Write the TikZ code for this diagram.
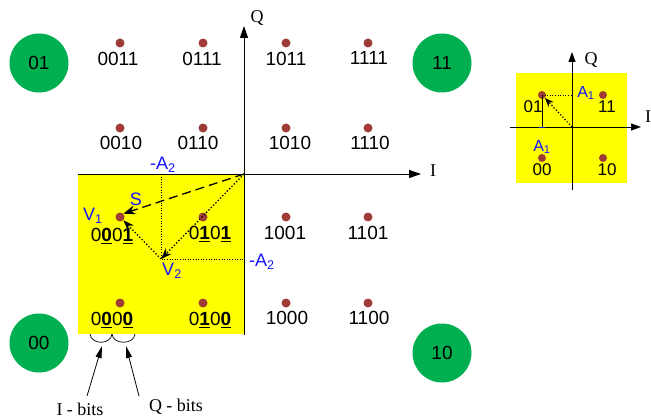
\documentclass[tikz,border=0pt]{standalone}
\usepackage{fontspec}
\setmainfont{Liberation Sans}
\newfontfamily\serifont{Liberation Serif}
\usetikzlibrary{arrows.meta}
\definecolor{qgreen}{RGB}{0,176,80}
\definecolor{qdot}{RGB}{160,60,55}
\definecolor{qyellow}{RGB}{255,255,0}
\definecolor{qblue}{RGB}{20,20,255}
\newcommand{\ub}[1]{\underline{\textbf{#1}}}
\newcommand{\sbs}[1]{\textsubscript{#1}}
\tikzset{
  every node/.style={inner sep=0pt},
  quad/.style={circle,fill=qgreen,minimum size=59pt,font=\fontsize{19}{21}\selectfont},
  pt/.style={circle,fill=qdot,minimum size=9pt},
  ipt/.style={circle,fill=qdot,minimum size=8pt},
  lbl/.style={font=\fontsize{19}{21}\selectfont},
  ilbl/.style={font=\fontsize{17}{19}\selectfont},
  blbl/.style={text=qblue,font=\fontsize{18}{20}\selectfont},
  axis/.style={line width=1pt,-{Triangle[length=12pt,width=8pt]}},
  iaxis/.style={line width=1pt,-{Triangle[length=10pt,width=7pt]}},
  serlbl/.style={font=\serifont\fontsize{18}{20}\selectfont},
  dotl/.style={line width=0.6pt,dotted},
  darr/.style={line width=1.3pt,dotted,-{Stealth[length=11pt,width=8pt]}},
  dasharr/.style={line width=1.3pt,dash pattern=on 9pt off 5pt,-{Stealth[length=12pt,width=9pt]}},
  barr/.style={line width=0.8pt,-{Triangle[length=12pt,width=6pt]}},
}
\begin{document}
\begin{tikzpicture}[x=1pt,y=-1pt]
\useasboundingbox (0,0) rectangle (651,420);
% yellow area
\fill[qyellow] (78,174) rectangle (244,334);
% axes
\coordinate (O) at (244,174);
\coordinate (Ileft) at (78,174);
\coordinate (Iright) at (421,174);
\coordinate (Qbot) at (244,335);
\coordinate (Qtop) at (244,26);
\draw[axis] (Ileft) -- (Iright);
\draw[axis] (Qbot) -- (Qtop);
\node[serlbl] (Ilab) at (433,171) {I};
\node[serlbl] (Qlab) at (257,18) {Q};
% quadrant circles
\node[quad] (c01) at (39,63) {01};
\node[quad] (c11) at (442,63) {11};
\node[quad] (c00) at (39,343) {00};
\node[quad] (c10) at (442,353) {10};
% constellation points
\foreach \n/\x/\y in {a/120/43,b/203/43,c/286/43,d/368/43,
                      e/120/128,f/203/128,g/286/128,h/368/128,
                      i/120/217,j/203/217,k/286/217,l/368/217,
                      m/120/303,n/203/303,o/286/303,p/368/303}
  \node[pt] (p\n) at (\x,\y) {};
\node[lbl] (la) at (118,59) {0011};
\node[lbl] (lb) at (202,59) {0111};
\node[lbl] (lc) at (286,59) {1011};
\node[lbl] (ld) at (369,58) {1111};
\node[lbl] (le) at (121,143) {0010};
\node[lbl] (lf) at (198,143) {0110};
\node[lbl] (lg) at (290,143) {1010};
\node[lbl] (lh) at (370,143) {1110};
\node[lbl] (li) at (112,236) {0\ub{0}0\ub{1}};
\node[lbl] (lj) at (210,234) {0\ub{1}0\ub{1}};
\node[lbl] (lk) at (285,233) {1001};
\node[lbl] (ll) at (368,233) {1101};
\node[lbl] (lm) at (112,320) {0\ub{0}0\ub{0}};
\node[lbl] (ln) at (210,320) {0\ub{1}0\ub{0}};
\node[lbl] (lo) at (287,318) {1000};
\node[lbl] (lp) at (369,318) {1100};
% vectors
\coordinate (V2) at (161,259);
\coordinate (A2top) at (161,174);
\coordinate (A2right) at (244,259);
\draw[dotl] (A2top) -- (V2) -- (A2right);
\draw[dasharr] (O) -- (pi.north east);
\draw[darr] (O) -- (V2);
\draw[darr] (V2) -- (pi.south east);
\node[blbl] (lA2t) at (163,165) {-A\sbs{2}};
\node[blbl] (lA2r) at (262,262) {-A\sbs{2}};
\node[blbl] (lS) at (136,199) {S};
\node[blbl] (lV1) at (93,216) {V\sbs{1}};
\node[blbl] (lV2) at (172,271) {V\sbs{2}};
% bit braces
\coordinate (b1) at (90,334);
\coordinate (b2) at (112,334);
\coordinate (b3) at (135,334);
\draw[line width=0.7pt] (b1) .. controls (91,345) and (111,345) .. (b2);
\draw[line width=0.7pt] (b2) .. controls (113,345) and (134,345) .. (b3);
\node[serlbl] (Ibits) at (80,409) {I - bits};
\node[serlbl] (Qbits) at (176,407) {Q - bits};
\coordinate (t1) at (102,346);
\coordinate (t2) at (126,346);
\coordinate (s1) at (87,396);
\coordinate (s2) at (139,396);
\draw[barr] (s1) -- (t1);
\draw[barr] (s2) -- (t2);
% inset
\fill[qyellow] (516,73) rectangle (627,183);
\coordinate (iO) at (572,127);
\coordinate (iL) at (510,127);
\coordinate (iR) at (641,127);
\coordinate (iB) at (572,190);
\coordinate (iT) at (572,52);
\draw[iaxis] (iL) -- (iR);
\draw[iaxis] (iB) -- (iT);
\node[serlbl,anchor=west] (iIlab) at (645,117) {I};
\node[serlbl] (iQlab) at (591,60) {Q};
\node[ipt] (q01) at (542,95) {};
\node[ipt] (q11) at (603,95) {};
\node[ipt] (q00) at (542,158) {};
\node[ipt] (q10) at (603,158) {};
\node[ilbl] (l01) at (533,107) {01};
\node[ilbl] (l11) at (607,107) {11};
\node[ilbl] (l00) at (542,170) {00};
\node[ilbl] (l10) at (607,170) {10};
\coordinate (iA1q) at (572,95);
\coordinate (iA1i) at (542,127);
\draw[dotl] (q01.center) -- (iA1q);
\draw[line width=0.6pt] (q01.center) -- (iA1i);
\draw[line width=1pt,qblue] (539,127) -- (545,127);
\draw[line width=1.2pt,dotted,-{Stealth[length=9pt,width=7pt]}] (iO) -- (q01.south east);
\node[blbl,font=\fontsize{16}{18}\selectfont] (lA1t) at (586,93) {A\sbs{1}};
\node[blbl,font=\fontsize{16}{18}\selectfont] (lA1b) at (542,147) {A\sbs{1}};
\end{tikzpicture}
\end{document}
